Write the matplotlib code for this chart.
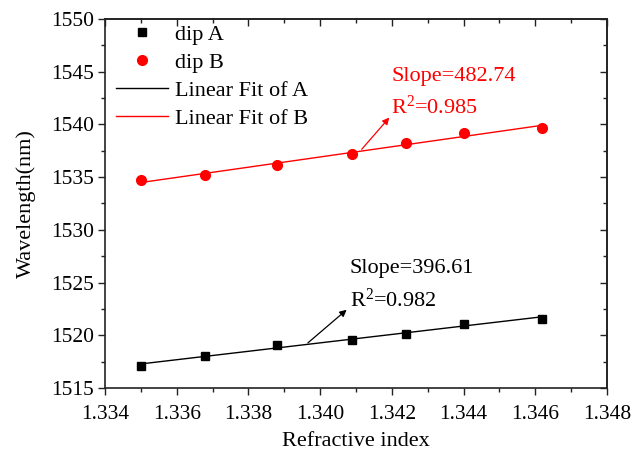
import numpy as np
import matplotlib
matplotlib.use("Agg")
import matplotlib.pyplot as plt
from matplotlib.ticker import MultipleLocator, FormatStrFormatter

plt.rcParams['font.family'] = ['Liberation Serif', 'DejaVu Serif']
plt.rcParams['mathtext.fontset'] = 'custom'
plt.rcParams['mathtext.rm'] = 'Liberation Serif'
plt.rcParams['mathtext.it'] = 'Liberation Serif:italic'
plt.rcParams['mathtext.bf'] = 'Liberation Serif:bold'

# data
refractive_index = [1.3350, 1.3368, 1.3388, 1.3409, 1.3424, 1.3440, 1.3462]
dip_a = [1517.06, 1518.07, 1519.09, 1519.59, 1520.11, 1521.09, 1521.59]
dip_b = [1534.69, 1535.19, 1536.18, 1537.19, 1538.21, 1539.22, 1539.70]
labels = ["dip A", "dip B", "Linear Fit of A", "Linear Fit of B"]
ann_a = ["Slope=396.61", r"R$^{\mathregular{2}}$=0.982"]
ann_b = ["Slope=482.74", r"R$^{\mathregular{2}}$=0.985"]

fig = plt.figure(figsize=(6.44, 4.51), dpi=100)
ax = fig.add_axes([0.163, 0.1397, 0.9425 - 0.163, 0.9579 - 0.1397])

x = np.array(refractive_index)
ya = np.array(dip_a)
yb = np.array(dip_b)
xf = np.array([x.min(), x.max()])
pa = np.polyfit(x, ya, 1)
pb = np.polyfit(x, yb, 1)

ha, = ax.plot(x, ya, 's', color='black', ms=6, ls='none', zorder=3)
hb, = ax.plot(x, yb, 'o', color='#ff0000', ms=7, ls='none', zorder=3)
hfa, = ax.plot(xf, np.polyval(pa, xf), '-', color='black', lw=1.0, zorder=2)
hfb, = ax.plot(xf, np.polyval(pb, xf), '-', color='#ff0000', lw=1.0, zorder=2)

ax.set_xlim(1.334, 1.348)
ax.set_ylim(1515, 1550)
ax.xaxis.set_major_locator(MultipleLocator(0.002))
ax.xaxis.set_minor_locator(MultipleLocator(0.001))
ax.xaxis.set_major_formatter(FormatStrFormatter('%.3f'))
ax.yaxis.set_major_locator(MultipleLocator(5))
ax.yaxis.set_minor_locator(MultipleLocator(2.5))
ax.tick_params(which='major', direction='out', length=5, width=1, labelsize=15.5,
               colors='#222222', labelcolor='black')
ax.tick_params(axis='x', which='major', pad=7)
ax.tick_params(axis='y', which='major', pad=3)
ax.tick_params(which='minor', direction='out', length=3, width=1, colors='#222222')

# mirrored inward ticks on top/right
secx = ax.secondary_xaxis('top')
secx.xaxis.set_major_locator(MultipleLocator(0.002))
secx.xaxis.set_minor_locator(MultipleLocator(0.001))
secx.tick_params(which='major', direction='in', length=5, width=1, labeltop=False, colors='#222222')
secx.tick_params(which='minor', direction='in', length=3, width=1, colors='#222222')
secy = ax.secondary_yaxis('right')
secy.yaxis.set_major_locator(MultipleLocator(5))
secy.yaxis.set_minor_locator(MultipleLocator(2.5))
secy.tick_params(which='major', direction='in', length=5, width=1, labelright=False, colors='#222222')
secy.tick_params(which='minor', direction='in', length=3, width=1, colors='#222222')
for s in list(ax.spines.values()) + [secx.spines['top'], secy.spines['right']]:
    s.set_linewidth(1.2)
    s.set_color('#222222')

ax.set_xlabel("Refractive index", fontsize=16, labelpad=6)
ax.set_ylabel("Wavelength(nm)", fontsize=16, labelpad=11)

leg = ax.legend([ha, hb, hfa, hfb], labels, loc='upper left', frameon=False,
                fontsize=16, numpoints=1, handlelength=2.35, handletextpad=0.3,
                labelspacing=0.33, borderpad=0.0, borderaxespad=0.0,
                bbox_to_anchor=(0.022, 0.985))

# annotations
ax.text(1.34083, 1525.94, ann_a[0], fontsize=16, color='black', va='baseline', ha='left')
ax.text(1.34083, 1522.70, ann_a[1], fontsize=16, color='black', va='baseline', ha='left')
ax.annotate("", xy=(1.34074, 1522.42), xytext=(1.33966, 1519.28),
            arrowprops=dict(arrowstyle='-|>', color='black', lw=0.9, mutation_scale=10,
                            shrinkA=0, shrinkB=0))
ax.text(1.34198, 1544.13, ann_b[0], fontsize=16, color='#ff0000', va='baseline', ha='left')
ax.text(1.34198, 1540.96, ann_b[1], fontsize=16, color='#ff0000', va='baseline', ha='left')
ax.annotate("", xy=(1.34193, 1540.65), xytext=(1.34116, 1537.64),
            arrowprops=dict(arrowstyle='-|>', color='#ff0000', lw=0.9, mutation_scale=10,
                            shrinkA=0, shrinkB=0))

fig.savefig("out.png", dpi=100)
